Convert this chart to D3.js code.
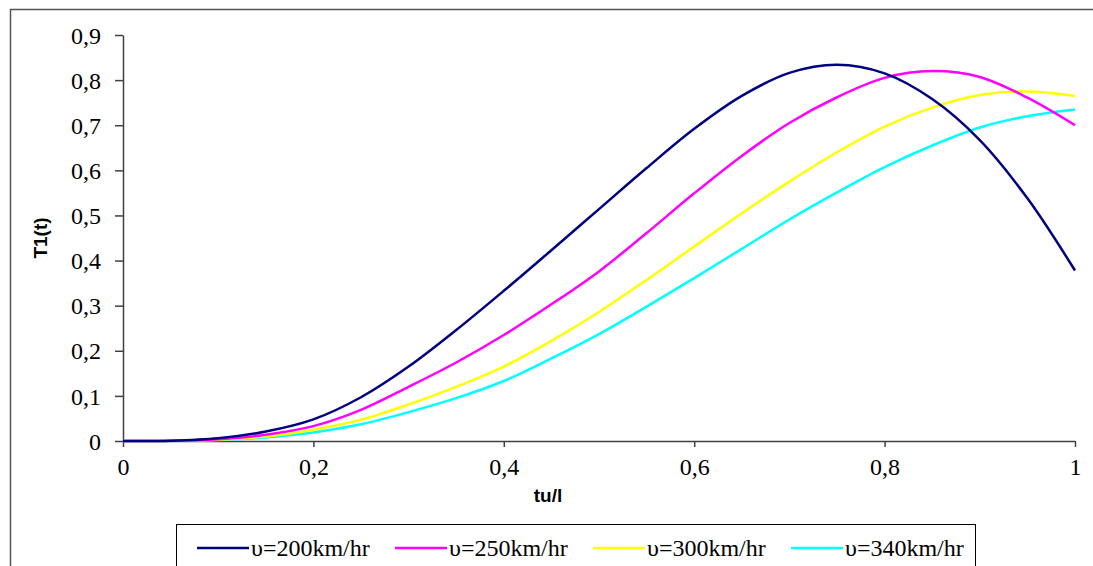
<!DOCTYPE html>
<html><head><meta charset="utf-8">
<script src="https://cdn.jsdelivr.net/npm/d3@7"></script>
<style>body{margin:0;background:#fff}svg{display:block}</style>
</head><body>
<svg id="c" width="1093" height="566"></svg>
<script>
const xs = [0,0.05,0.1,0.15,0.2,0.25,0.3,0.35,0.4,0.45,0.5,0.55,0.6,0.65,0.7,0.75,0.8,0.85,0.9,0.95,1.0];
const v200 = [0,0.0006,0.006,0.021,0.048,0.097,0.165,0.246,0.333,0.423,0.514,0.605,0.692,0.765,0.816,0.834,0.815,0.758,0.667,0.538,0.378];
const v250 = [0,0.0004,0.004,0.014,0.033,0.069,0.12,0.174,0.235,0.303,0.376,0.461,0.549,0.632,0.705,0.762,0.805,0.82,0.807,0.761,0.7];
const v300 = [0,0.0003,0.003,0.01,0.025,0.047,0.081,0.12,0.165,0.222,0.286,0.357,0.431,0.505,0.575,0.64,0.697,0.739,0.767,0.775,0.765];
const v340 = [0,0.0002,0.002,0.008,0.019,0.037,0.064,0.095,0.133,0.183,0.237,0.298,0.361,0.426,0.491,0.551,0.607,0.655,0.695,0.72,0.735];
const seriesNames = ["υ=200km/hr","υ=250km/hr","υ=300km/hr","υ=340km/hr"];
const seriesColors = ["#000080","#ff00ff","#ffff00","#00ffff"];
const xTicks = [0,0.2,0.4,0.6,0.8,1];
const yTicks = [0,0.1,0.2,0.3,0.4,0.5,0.6,0.7,0.8,0.9];
const xTitle = "tu/l", yTitle = "T1(t)";

const SERIF = "'Liberation Serif', 'Times New Roman', Times, serif";
const svg = d3.select("#c");
const fmt = d => String(d).replace(".", ",");
svg.append("rect").attr("x",10.5).attr("y",9.5).attr("width",1200).attr("height",700)
  .attr("fill","none").attr("stroke","#555").attr("stroke-width",1.5);

const x = d3.scaleLinear().domain([0,1]).range([123,1075]);
const y = d3.scaleLinear().domain([0,0.9]).range([441,35]);

const gy = svg.append("g").attr("transform","translate(123,0)")
  .call(d3.axisLeft(y).tickValues(yTicks).tickFormat(fmt).tickSize(8).tickSizeOuter(0));
const gx = svg.append("g").attr("transform","translate(0,441)")
  .call(d3.axisBottom(x).tickValues(xTicks).tickFormat(fmt).tickSize(6).tickSizeOuter(0));
[gx,gy].forEach(g=>{
  g.attr("font-family",SERIF).attr("font-size",24);
  g.select(".domain").attr("stroke","#404040").attr("stroke-width",1.5);
  g.selectAll(".tick line").attr("stroke","#404040").attr("stroke-width",1.5);
  g.selectAll("text").attr("fill","#000");
});
gy.selectAll("text").attr("x",-22).attr("dy","0.34em");
gx.selectAll("text").attr("y",17).attr("dy","0.71em");

const series = [v200,v250,v300,v340];
const line = d3.line().x((d,i)=>x(xs[i])).y(d=>y(d)).curve(d3.curveCatmullRom.alpha(0.5));
for (let i = series.length-1; i >= 0; i--) {
  svg.append("path").datum(series[i]).attr("d",line).attr("fill","none")
    .attr("stroke",seriesColors[i]).attr("stroke-width",2.5);
}

svg.append("text").attr("x",548).attr("y",502).attr("text-anchor","middle")
  .attr("font-family","'Liberation Sans', Arial, sans-serif").attr("font-weight","bold")
  .attr("font-size",19).text(xTitle);
svg.append("text").attr("transform","translate(47,238) rotate(-90)").attr("text-anchor","middle")
  .attr("font-family","'Liberation Sans', Arial, sans-serif").attr("font-weight","bold")
  .attr("font-size",19).text(yTitle);

const lg = svg.append("g").attr("font-family",SERIF).attr("font-size",24);
lg.append("rect").attr("x",176.5).attr("y",524.5).attr("width",799).attr("height",80)
  .attr("fill","#fff").attr("stroke","#000").attr("stroke-width",1);
seriesNames.forEach((n,i)=>{
  const lx = 197 + i*198;
  lg.append("line").attr("x1",lx).attr("x2",lx+52).attr("y1",548).attr("y2",548)
    .attr("stroke",seriesColors[i]).attr("stroke-width",2.5);
  lg.append("text").attr("x",lx+54).attr("y",548).attr("dy","0.35em").text(n);
});
</script>
</body></html>
